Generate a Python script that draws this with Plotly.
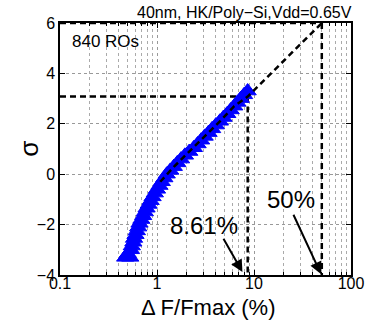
import math
import plotly.graph_objects as go

# ---- data ----
sigma_vals = [-3.30, -3.30, -3.15, -3.0, -2.85, -2.7, -2.55, -2.4, -2.25, -2.1, -1.95,
              -1.8, -1.65, -1.5, -1.35, -1.2, -1.05, -0.9, -0.75, -0.6, -0.45, -0.3,
              -0.15, 0.0, 0.15, 0.3, 0.45, 0.6, 0.75, 0.9, 1.05, 1.2, 1.35, 1.5, 1.65,
              1.8, 1.95, 2.1, 2.25, 2.4, 2.55, 2.7, 2.85, 3.0, 3.15, 3.3]
dfreq_vals = [0.47, 0.53, 0.50, 0.54, 0.55, 0.57, 0.58, 0.60, 0.62, 0.64, 0.66,
              0.69, 0.72, 0.75, 0.78, 0.82, 0.86, 0.90, 0.95, 1.00, 1.06, 1.12,
              1.19, 1.26, 1.37, 1.49, 1.62, 1.77, 1.94, 2.15, 2.40, 2.62, 2.85, 3.10, 3.40,
              3.70, 4.05, 4.45, 4.85, 5.30, 5.75, 6.25, 6.75, 7.30, 7.90, 8.60]

fit_x = [1.08, 1.5, 2.15, 3.1, 4.45, 6.25, 8.61, 50]
fit_sigma = [-0.3, 0.3, 0.9, 1.5, 2.1, 2.7, 3.08, 6]

ref_x = [8.61, 50]          # percent values marked
ref_sigma = [3.08, 6]       # corresponding sigma levels
x_min, x_max = 0.1, 100
y_min, y_max = -4, 6

x_major = [0.1, 1, 10, 100]
x_major_text = ["0.1", "1", "10", "100"]
x_minor = [m * d for d in [0.1, 1, 10] for m in range(2, 10)]
y_ticks = [-4, -2, 0, 2, 4, 6]
y_ticktext = ["\u22124", "\u22122", "0", "2", "4", "6"]

fig = go.Figure()

dash_style = dict(color="black", width=2.5, dash="6px,4px")

# reference dashed lines
for rx, rs in zip(ref_x, ref_sigma):
    fig.add_trace(go.Scatter(x=[x_min, rx], y=[rs, rs], mode="lines",
                             line=dash_style, showlegend=False, hoverinfo="skip",
                             cliponaxis=False))
    fig.add_trace(go.Scatter(x=[rx, rx], y=[rs, y_min], mode="lines",
                             line=dash_style, showlegend=False, hoverinfo="skip"))

# data
fig.add_trace(go.Scatter(x=dfreq_vals, y=sigma_vals, mode="markers",
                         marker=dict(symbol="triangle-up", size=15, color="#0000ff",
                                     line=dict(color="#0000ff", width=1)),
                         showlegend=False))

# fit line
fig.add_trace(go.Scatter(x=fit_x, y=fit_sigma, mode="lines",
                         line=dash_style, showlegend=False, hoverinfo="skip"))

font = "Liberation Sans, Arial, Helvetica, sans-serif"


def lx(v):
    return math.log10(v)


annotations = [
    dict(text="40nm, HK/Poly\u2212Si,Vdd=0.65V", xref="paper", yref="paper",
         x=1.012, y=1.0, xanchor="right", yanchor="bottom", showarrow=False,
         font=dict(size=16, color="black", family=font)),
    dict(text="840 ROs", xref="paper", yref="paper", x=0.035, y=0.925,
         xanchor="left", yanchor="middle", showarrow=False,
         font=dict(size=17, color="black", family=font)),
    dict(text="8.61%", xref="x", yref="y", x=lx(3.05), y=-2.02, showarrow=False,
         font=dict(size=24, color="black", family=font)),
    dict(text="50%", xref="x", yref="y", x=lx(24), y=-1.0, showarrow=False,
         font=dict(size=24, color="black", family=font)),
    dict(text="", xref="x", yref="y", axref="x", ayref="y",
         x=lx(7.6), y=-3.88, ax=lx(4.75), ay=-2.5, showarrow=True,
         arrowhead=2, arrowsize=1.2, arrowwidth=2, arrowcolor="black", standoff=0),
    dict(text="", xref="x", yref="y", axref="x", ayref="y",
         x=lx(49), y=-3.96, ax=lx(25.1), ay=-1.55, showarrow=True,
         arrowhead=2, arrowsize=1.2, arrowwidth=2, arrowcolor="black", standoff=0),
    dict(text="\u0394 F/Fmax (%)", xref="paper", yref="paper", x=0.51, y=-0.128,
         xanchor="center", yanchor="middle", showarrow=False,
         font=dict(size=22, color="black", family=font)),
    dict(text="\u03c3", xref="paper", yref="paper", x=-0.107, y=0.5, textangle=-90,
         xanchor="center", yanchor="middle", showarrow=False,
         font=dict(size=26, color="black", family=font)),
]

fig.update_layout(
    width=376, height=322,
    margin=dict(l=60, r=16, t=23, b=47),
    paper_bgcolor="white", plot_bgcolor="white",
    font=dict(family=font, color="black", size=16),
    annotations=annotations,
    showlegend=False,
)

fig.update_xaxes(
    type="log", range=[lx(x_min), lx(x_max)],
    tickmode="array", tickvals=x_major, ticktext=x_major_text,
    ticks="inside", ticklen=5, tickwidth=1, tickcolor="black",
    showline=True, linecolor="black", linewidth=1.5, mirror="allticks",
    showgrid=True, gridcolor="#999999", griddash="dot", gridwidth=1,
    minor=dict(tickmode="array", tickvals=x_minor, ticks="inside", ticklen=3,
               tickcolor="black", showgrid=True, gridcolor="#aaaaaa",
               griddash="dot", gridwidth=1),
    tickfont=dict(size=16, family=font),
    ticklabelstandoff=-7,
    ticklabeloverflow="allow",
    zeroline=False,
)
fig.update_yaxes(
    range=[y_min, y_max],
    tickmode="array", tickvals=y_ticks, ticktext=y_ticktext,
    ticks="inside", ticklen=5, tickwidth=1, tickcolor="black",
    showline=True, linecolor="black", linewidth=1.5, mirror="allticks",
    showgrid=True, gridcolor="#999999", griddash="dot", gridwidth=1,
    tickfont=dict(size=16, family=font),
    zeroline=False,
)

fig.write_html("out.html", config={"displayModeBar": False},
               post_script="document.body.style.margin='0';")
